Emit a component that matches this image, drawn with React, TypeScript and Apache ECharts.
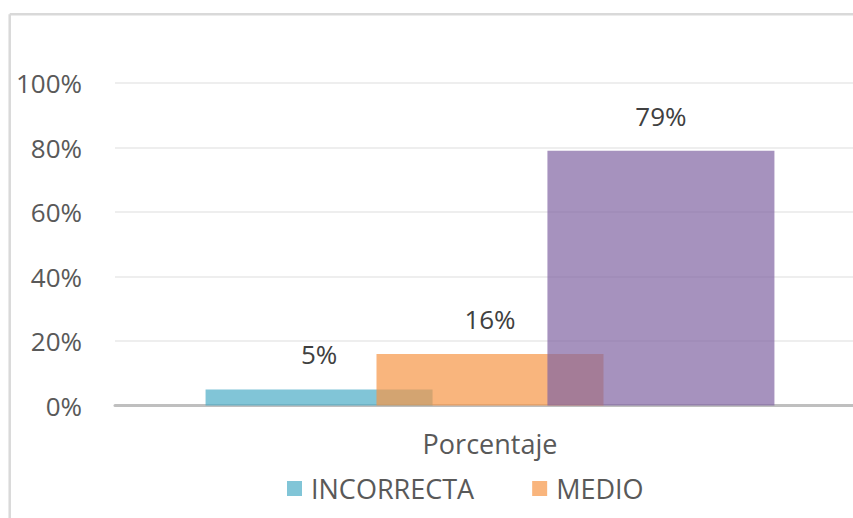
import React, { useEffect, useRef } from "react";
import * as echarts from "echarts";

const categories = ["Porcentaje"];
const seriesNames = ["INCORRECTA", "MEDIO", "CORRECTA"];
const incorrectaValues = [5];
const medioValues = [16];
const correctaValues = [79];
const yTicks = [0, 20, 40, 60, 80, 100];
const legendNames = ["INCORRECTA", "MEDIO"];

const colors = ["rgba(75,172,198,0.7)", "rgba(247,150,70,0.7)", "rgba(128,100,162,0.7)"];
const FONT = "'Open Sans', sans-serif";

export default function App() {
  const ref = useRef<HTMLDivElement>(null);
  useEffect(() => {
    if (!ref.current) return;
    const chart = echarts.init(ref.current, undefined, { renderer: "svg" });
    const values = [incorrectaValues, medioValues, correctaValues];
    const option: any = {
      animation: false,
      backgroundColor: "#ffffff",
      textStyle: { fontFamily: FONT },
      legend: {
        data: legendNames,
        left: 282,
        top: 470,
        itemWidth: 15,
        itemHeight: 15,
        itemGap: 58,
        icon: "rect",
        textStyle: { fontSize: 27, color: "#595959", fontFamily: FONT, padding: [0, 0, 0, 4] },
      },
      grid: { left: 115, right: 0, top: 83, bottom: 112.5, containLabel: false },
      xAxis: {
        type: "category",
        data: categories,
        axisLine: { show: true, lineStyle: { color: "#bfbfbf", width: 3 } },
        axisTick: { show: false },
        axisLabel: { fontSize: 27, color: "#595959", margin: 24, fontFamily: FONT },
      },
      yAxis: {
        type: "value",
        min: yTicks[0],
        max: yTicks[yTicks.length - 1],
        interval: 20,
        axisLine: { show: false },
        axisTick: { show: false },
        axisLabel: {
          fontSize: 26,
          color: "#595959",
          margin: 33,
          fontFamily: FONT,
          formatter: (v: number) => v + "%",
        },
        splitLine: { lineStyle: { color: "#eeeeee", width: 2 } },
      },
      series: seriesNames.map((name, i) => ({
        name,
        type: "bar",
        data: values[i],
        barWidth: 227,
        barGap: "-24.7%",
        itemStyle: { color: colors[i] },
        label: {
          show: true,
          position: "top",
          distance: 22,
          fontSize: 26,
          color: "#404040",
          fontFamily: FONT,
          formatter: (p: any) => p.value + "%",
        },
      })),
      graphic: [
        {
          type: "line",
          shape: { x1: 9.7, y1: 14.3, x2: 865, y2: 14.3 },
          style: { stroke: "#d9d9d9", lineWidth: 2.5 },
        },
        {
          type: "line",
          shape: { x1: 9.7, y1: 14.3, x2: 9.7, y2: 518 },
          style: { stroke: "#d9d9d9", lineWidth: 2.5 },
        },
      ],
    };
    chart.setOption(option);
    return () => chart.dispose();
  }, []);
  return (
    <div
      style={{ position: "fixed", left: 0, top: 0, width: 853, height: 518, overflow: "hidden" }}
    >
      <div ref={ref} style={{ width: 865, height: 518 }} />
    </div>
  );
}
